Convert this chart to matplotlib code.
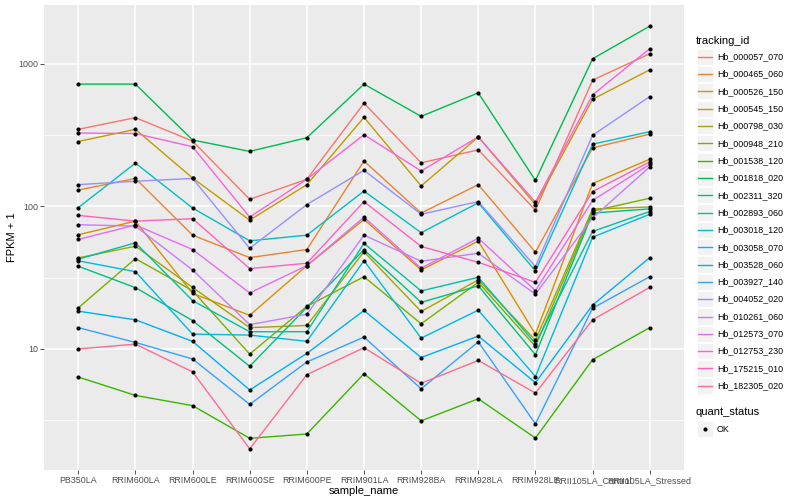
import numpy as np
import matplotlib
matplotlib.use("Agg")
import matplotlib.pyplot as plt
from matplotlib.ticker import FixedLocator, NullFormatter
from matplotlib.patches import Rectangle

plt.rcParams['font.family'] = ['Liberation Sans', 'DejaVu Sans']

# samples on the x axis
samples = ["PB350LA", "RRIM600LA", "RRIM600LE", "RRIM600SE", "RRIM600PE", "RRIM901LA",
           "RRIM928BA", "RRIM928LA", "RRIM928LE", "RRII105LA_Control", "RRII105LA_Stressed"]

tracking_ids = ["Hb_000057_070", "Hb_000465_060", "Hb_000526_150", "Hb_000545_150",
                "Hb_000798_030", "Hb_000948_210", "Hb_001538_120", "Hb_001818_020",
                "Hb_002311_320", "Hb_002893_060", "Hb_003018_120", "Hb_003058_070",
                "Hb_003528_060", "Hb_003927_140", "Hb_004052_020", "Hb_010261_060",
                "Hb_012573_070", "Hb_012753_230", "Hb_175215_010", "Hb_182305_020"]

# ggplot default hue palette, 20 levels
colors = ["#F8766D", "#EA8331", "#D89000", "#C09B00", "#A3A500", "#7CAE00", "#39B600",
          "#00BB4E", "#00BF7D", "#00C1A3", "#00BFC4", "#00BAE0", "#00B0F6", "#35A2FF",
          "#9590FF", "#C77CFF", "#E76BF3", "#FA62DB", "#FF62BC", "#FF6C91"]

# FPKM + 1 (one list per gene, in sample order)
hb_000057_070 = [347, 419, 287, 112, 155, 529, 202, 249, 94, 768, 1176]
hb_000465_060 = [130, 157, 62.8, 43.7, 49.8, 208, 89.7, 142, 47.7, 257, 321]
hb_000526_150 = [63.2, 78.8, 24.5, 17.2, 38.4, 81, 35.8, 57, 12.7, 144.5, 214]
hb_000545_150 = [285, 347, 158, 80, 142, 421, 139, 307, 103, 564, 907]
hb_000798_030 = [43.5, 52.5, 27, 14.1, 14.6, 48, 18.3, 30.5, 11.5, 95.7, 99]
hb_000948_210 = [19.4, 43, 25.6, 9.2, 19.9, 32.1, 15, 29.3, 10.4, 92.6, 114]
hb_001538_120 = [6.35, 4.72, 4.0, 2.36, 2.53, 6.7, 3.13, 4.47, 2.37, 8.4, 14.1]
hb_001818_020 = [720, 720, 292, 243, 303, 720, 428, 625, 152, 1084, 1837]
hb_002311_320 = [38, 26.9, 15.8, 7.55, 19.6, 49.6, 21.2, 27.7, 9.1, 89.7, 96]
hb_002893_060 = [42.6, 55.5, 21.8, 13.2, 13.2, 55, 25.5, 31.8, 10.9, 66.7, 92]
hb_003018_120 = [98, 201, 97.3, 57.3, 62.8, 128, 65.3, 106, 35.2, 273, 334]
hb_003058_070 = [41.5, 34.8, 12.7, 12.5, 11.3, 41.6, 11.9, 18.7, 6.4, 60.8, 88]
hb_003528_060 = [18.4, 16, 11.3, 5.15, 9.3, 18.6, 8.7, 12.3, 5.8, 20.3, 43.7]
hb_003927_140 = [14.1, 11.1, 8.5, 4.08, 8.1, 12.1, 5.25, 11.2, 2.98, 19.3, 32.1]
hb_004052_020 = [142, 150, 157, 50.8, 103, 179, 88, 108, 37.8, 315, 589]
hb_010261_060 = [74.3, 72.7, 35.8, 14.8, 17.5, 62.8, 41.2, 46.9, 24.2, 83, 189]
hb_012573_070 = [58.6, 74, 49.8, 24.7, 38.4, 84, 36.8, 59.8, 25.6, 110, 197]
hb_012753_230 = [327, 324, 262, 84, 155, 318, 177, 307, 107, 605, 1276]
hb_175215_010 = [86.4, 78.8, 81.9, 36.6, 39.9, 108, 52.3, 40.5, 29.3, 127, 205]
hb_182305_020 = [10, 10.8, 6.9, 1.99, 6.6, 10.2, 5.74, 8.3, 4.9, 16, 27]

series = [hb_000057_070, hb_000465_060, hb_000526_150, hb_000545_150, hb_000798_030,
          hb_000948_210, hb_001538_120, hb_001818_020, hb_002311_320, hb_002893_060,
          hb_003018_120, hb_003058_070, hb_003528_060, hb_003927_140, hb_004052_020,
          hb_010261_060, hb_012573_070, hb_012753_230, hb_175215_010, hb_182305_020]

W, H = 800, 500
fig = plt.figure(figsize=(8, 5), dpi=100)
ax = fig.add_axes([44 / W, 1 - 470 / H, 640 / W, 465 / H])
ax.set_facecolor("#EBEBEB")
for s in ax.spines.values():
    s.set_visible(False)

x = np.arange(len(samples))
for vals, col in zip(series, colors):
    ax.plot(x, vals, color=col, lw=1.0, zorder=2)
for vals in series:
    ax.plot(x, vals, 'o', color='black', ms=3.0, mec='none', zorder=3)

ax.set_yscale('log')
allv = np.concatenate([np.array(v, float) for v in series])
lo, hi = np.log10(allv.min()), np.log10(allv.max())
pad = 0.05 * (hi - lo)
ax.set_ylim(10 ** (lo - pad), 10 ** (hi + pad))
ax.set_xlim(-0.6, len(samples) - 0.4)

ax.yaxis.set_major_locator(FixedLocator([10, 100, 1000]))
ax.set_yticklabels(["10", "100", "1000"])
ax.yaxis.set_minor_locator(FixedLocator([10 ** 0.5, 10 ** 1.5, 10 ** 2.5]))
ax.yaxis.set_minor_formatter(NullFormatter())
ax.set_xticks(x)
ax.set_xticklabels(samples)

ax.grid(True, which='major', color='white', lw=1.1, zorder=0)
ax.grid(True, which='minor', axis='y', color='white', lw=0.55, zorder=0)
ax.set_axisbelow(True)
ax.tick_params(axis='both', which='major', length=2.8, width=0.6, color='#333333',
               labelsize=6.4, labelcolor='#4D4D4D', pad=1.5)
ax.tick_params(axis='y', which='minor', length=0)

ax.set_xlabel("sample_name", fontsize=8, labelpad=0.5)
ax.set_ylabel("FPKM + 1", fontsize=8, labelpad=1)

# legends drawn in pixel coordinates on an overlay
lg = fig.add_axes([0, 0, 1, 1])
lg.set_xlim(0, W)
lg.set_ylim(H, 0)
lg.axis('off')

lg.text(696, 40.7, "tracking_id", fontsize=8, va='center', ha='left')
for i, (name, col) in enumerate(zip(tracking_ids, colors)):
    yc = 56.7 + 17.32 * i
    lg.add_patch(Rectangle((697, yc - 8.1), 16.2, 16.2, fc="#F2F2F2", ec='white', lw=0.6))
    lg.plot([698, 712], [yc, yc], color=col, lw=1.0)
    lg.text(717, yc, name, fontsize=6.4, va='center', ha='left')

lg.text(696, 412, "quant_status", fontsize=8, va='center', ha='left')
lg.add_patch(Rectangle((697, 429 - 8.1), 16.2, 16.2, fc="#F2F2F2", ec='white', lw=0.6))
lg.plot([705], [429], 'o', color='black', ms=3.0, mec='none')
lg.text(717, 429, "OK", fontsize=6.4, va='center', ha='left')

fig.savefig("out.png", dpi=100)
